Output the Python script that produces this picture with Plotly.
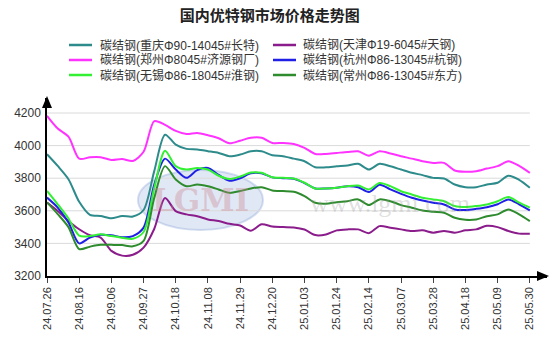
import plotly.graph_objects as go

# ---------------- data ----------------
dates = [
    "24.07.26", "24.08.02", "24.08.09", "24.08.16", "24.08.23", "24.08.30",
    "24.09.06", "24.09.13", "24.09.20", "24.09.27", "24.10.04", "24.10.11",
    "24.10.18", "24.10.25", "24.11.01", "24.11.08", "24.11.15", "24.11.22",
    "24.11.29", "24.12.06", "24.12.13", "24.12.20", "24.12.27", "24.12.31",
    "25.01.03", "25.01.10", "25.01.17", "25.01.24", "25.01.31", "25.02.07",
    "25.02.14", "25.02.21", "25.02.28", "25.03.07", "25.03.14", "25.03.21",
    "25.03.28", "25.04.04", "25.04.11", "25.04.18", "25.04.25", "25.05.02",
    "25.05.09", "25.05.16", "25.05.23", "25.05.30",
]

chongqing = [3947, 3875, 3794, 3655, 3575, 3568, 3554, 3568, 3565, 3605,
             3845, 4067, 4006, 3980, 3976, 3966, 3955, 3935, 3945, 3965,
             3965, 3941, 3935, 3920, 3904, 3867, 3867, 3873, 3878, 3888,
             3853, 3888, 3873, 3853, 3833, 3819, 3802, 3798, 3761, 3745,
             3745, 3761, 3772, 3815, 3790, 3741]
tianjin = [3651, 3599, 3538, 3487, 3450, 3436, 3354, 3325, 3330, 3374,
           3490, 3678, 3598, 3578, 3567, 3547, 3537, 3520, 3510, 3478,
           3517, 3503, 3500, 3498, 3485, 3451, 3455, 3480, 3486, 3486,
           3463, 3506, 3496, 3486, 3476, 3480, 3466, 3476, 3466, 3480,
           3486, 3508, 3500, 3476, 3460, 3459]
zhengzhou = [4183, 4105, 4055, 3920, 3928, 3928, 3912, 3918, 3906, 3962,
             4150, 4127, 4090, 4071, 4077, 4063, 4045, 4014, 4030, 4048,
             4048, 4016, 4016, 4010, 3986, 3949, 3949, 3955, 3961, 3965,
             3938, 3965, 3952, 3935, 3920, 3904, 3894, 3894, 3847, 3839,
             3843, 3859, 3874, 3904, 3875, 3833]
hangzhou = [3681, 3620, 3528, 3400, 3436, 3453, 3450, 3438, 3445, 3497,
            3761, 3920, 3853, 3802, 3850, 3863, 3820, 3785, 3800, 3830,
            3830, 3805, 3800, 3796, 3770, 3737, 3737, 3741, 3751, 3745,
            3715, 3760, 3731, 3704, 3680, 3663, 3649, 3639, 3608, 3605,
            3612, 3622, 3640, 3670, 3640, 3602]
wuxi = [3722, 3640, 3553, 3448, 3445, 3456, 3445, 3435, 3428, 3470,
        3741, 3969, 3874, 3853, 3863, 3853, 3815, 3795, 3810, 3835,
        3833, 3806, 3802, 3798, 3772, 3737, 3737, 3741, 3751, 3755,
        3731, 3770, 3751, 3720, 3700, 3680, 3670, 3659, 3629, 3623,
        3629, 3639, 3659, 3684, 3650, 3620]
changzhou = [3652, 3580, 3500, 3365, 3380, 3391, 3391, 3390, 3382, 3415,
             3680, 3874, 3792, 3751, 3761, 3751, 3731, 3710, 3721, 3737,
             3745, 3725, 3721, 3717, 3690, 3649, 3643, 3653, 3659, 3670,
             3635, 3670, 3659, 3635, 3619, 3602, 3594, 3588, 3557, 3545,
             3547, 3567, 3578, 3608, 3578, 3537]

series_names = [
    "碳结钢(重庆Φ90-14045#长特)",
    "碳结钢(天津Φ19-6045#天钢)",
    "碳结钢(郑州Φ8045#济源钢厂)",
    "碳结钢(杭州Φ86-13045#杭钢)",
    "碳结钢(无锡Φ86-18045#淮钢)",
    "碳结钢(常州Φ86-13045#东方)",
]
series_values = [chongqing, tianjin, zhengzhou, hangzhou, wuxi, changzhou]
series_colors = ["#2E8B8B", "#8B1C8B", "#FF33FF", "#1F1FE6", "#33F033", "#2E8B2E"]

y_ticks = [3200, 3400, 3600, 3800, 4000, 4200]
title = "国内优特钢市场价格走势图"

# ---------------- figure ----------------
FONT = "Liberation Sans, Arial, Noto Sans CJK SC, sans-serif"
W, H = 554, 354
ML, MR, MT, MB = 47, 7, 98, 78
PW, PH = W - ML - MR, H - MT - MB


def px_x(px):
    return (px - ML) / PW


def px_y(py):
    return (H - MB - py) / PH


xs = list(range(len(dates)))

fig = go.Figure()
for name, vals, col in zip(series_names, series_values, series_colors):
    fig.add_trace(go.Scatter(
        x=xs, y=vals, name=name, mode="lines",
        line=dict(color=col, width=2, shape="spline", smoothing=0.8),
        hoverinfo="skip", showlegend=False,
    ))

tick_idx = xs[::3]
fig.update_xaxes(
    range=[0, len(dates) - 1 + 1.6],
    tickmode="array", tickvals=tick_idx, ticktext=[dates[i] for i in tick_idx],
    tickangle=-90, tickfont=dict(size=11, color="#333333", family=FONT),
    showgrid=False, zeroline=False,
    showline=True, linecolor="#000000", linewidth=1.5,
    ticks="outside", ticklen=5, tickcolor="#444444", tickwidth=1,
)
fig.update_yaxes(
    range=[3200, 4292],
    tickmode="array", tickvals=y_ticks,
    tickfont=dict(size=12, color="#333333", family=FONT),
    showgrid=False, zeroline=False,
    showline=True, linecolor="#000000", linewidth=1.5,
    ticks="", ticklabelstandoff=2,
)

# horizontal grid lines (ending at last data point)
for v in y_ticks[1:]:
    fig.add_shape(type="line", xref="x", yref="y", x0=0, x1=len(dates) - 1,
                  y0=v, y1=v, line=dict(color="#DADADA", width=1), layer="below")

# axis arrow heads
fig.add_shape(type="path", xref="paper", yref="paper", xsizemode="pixel", ysizemode="pixel",
              xanchor=1, yanchor=0, path="M -10 -5 L 2 0 L -10 5 Z",
              fillcolor="#000000", line=dict(color="#000000", width=0))
fig.add_shape(type="path", xref="paper", yref="paper", xsizemode="pixel", ysizemode="pixel",
              xanchor=0, yanchor=1, path="M -5 -10 L 0 2 L 5 -10 Z",
              fillcolor="#000000", line=dict(color="#000000", width=0))

# watermark
fig.add_shape(type="circle", xref="paper", yref="paper",
              x0=px_x(138), x1=px_x(263), y0=px_y(230), y1=px_y(170),
              fillcolor="rgba(120,150,210,0.22)", line=dict(color="rgba(120,150,210,0.3)", width=2),
              layer="below")
fig.add_annotation(x=px_x(200), y=px_y(200), xref="paper", yref="paper", text="<b>LGMI</b>",
                   showarrow=False, xanchor="center", yanchor="middle",
                   font=dict(size=31, color="rgba(200,130,140,0.35)", family="DejaVu Serif"))
fig.add_annotation(x=px_x(390), y=px_y(203), xref="paper", yref="paper", text="www.lgmi.com",
                   showarrow=False, xanchor="center", yanchor="middle",
                   font=dict(size=26, color="rgba(150,150,150,0.30)", family="Liberation Serif"))

# custom legend (2 columns x 3 rows)
col_line_x = [69, 273]
col_text_x = [98, 301]
row_y = [45, 60, 75]
for k, (name, col) in enumerate(zip(series_names, series_colors)):
    c, r = k % 2, k // 2
    fig.add_shape(type="line", xref="paper", yref="paper",
                  x0=px_x(col_line_x[c]), x1=px_x(col_line_x[c] + 23),
                  y0=px_y(row_y[r]), y1=px_y(row_y[r]),
                  line=dict(color=col, width=2.5))
    fig.add_annotation(x=px_x(col_text_x[c]), y=px_y(row_y[r]), xref="paper", yref="paper",
                       text=name, showarrow=False, xanchor="left", yanchor="middle",
                       font=dict(size=12, color="#333333", family=FONT))

fig.update_layout(
    width=W, height=H,
    margin=dict(l=ML, r=MR, t=MT, b=MB),
    paper_bgcolor="#FFFFFF", plot_bgcolor="#FFFFFF",
    font=dict(family=FONT, color="#333333"),
    title=dict(text="<b>" + title + "</b>", x=0.487, xanchor="center", y=0.955, yanchor="middle",
               font=dict(size=15, color="#222222", family=FONT)),
    showlegend=False,
)

fig.write_html("out.html")
